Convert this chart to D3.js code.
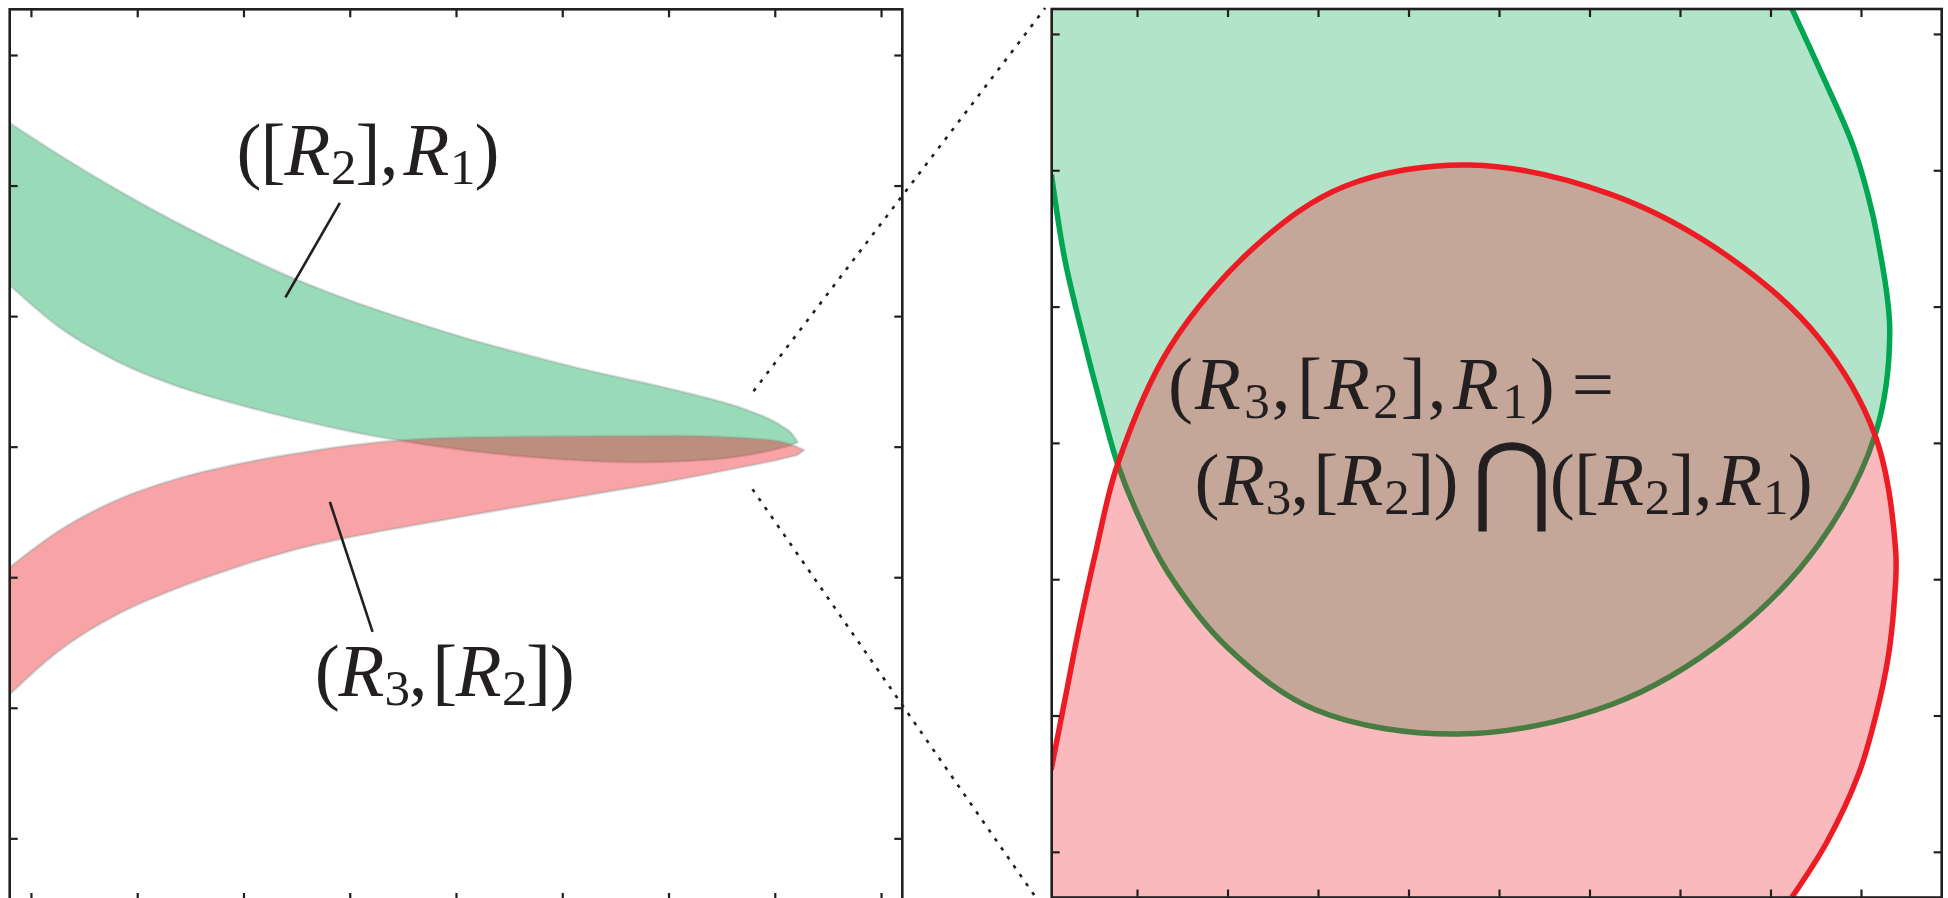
<!DOCTYPE html>
<html><head><meta charset="utf-8">
<script src="https://cdn.jsdelivr.net/npm/d3@7"></script>
<style>html,body{margin:0;padding:0;background:#fff}svg{display:block}</style>
</head><body>
<svg id="chart" width="1948" height="898"></svg>
<script>
// ---------------- data ----------------
const leftXTicks  = [0,1,2,3,4,5,6,7,8];
const leftYTicks  = [-3,-2,-1,0,1,2,3];
const rightXTicks = [0,1,2,3,4,5,6,7,8];
const rightYTicks = [-3,-2,-1,0,1,2,3];

// left panel: band ([R2],R1)  (edges listed left -> tip)
const greenBandUpper = [[-0.2,2.479],[0.258,2.238],[0.807,1.969],[1.363,1.720],[1.918,1.494],[2.464,1.291],[3.020,1.115],[3.575,0.962],[4.121,0.824],[4.677,0.701],[5.233,0.586],[5.779,0.487],[6.108,0.425],[6.334,0.379],[6.739,0.280],[7.050,0.165],[7.172,0.088],[7.215,0.034]];
const greenBandLower = [[-0.2,1.238],[0.258,0.920],[0.807,0.655],[1.363,0.467],[1.918,0.330],[2.464,0.215],[3.020,0.115],[3.575,0.034],[4.126,-0.031],[4.677,-0.077],[5.233,-0.107],[5.783,-0.119],[6.334,-0.103],[6.890,-0.042],[7.144,0.008]];
// left panel: band (R3,[R2])
const redBandUpper = [[-0.2,-0.923],[0.258,-0.648],[0.807,-0.410],[1.363,-0.249],[1.918,-0.138],[2.464,-0.057],[3.020,0.011],[3.575,0.054],[4.126,0.073],[5.233,0.080],[6.108,0.084],[6.890,0.057],[7.144,0.019],[7.276,-0.027]];
const redBandLower = [[-0.2,-1.897],[0.258,-1.567],[0.807,-1.287],[1.363,-1.088],[1.918,-0.927],[2.464,-0.793],[3.020,-0.690],[3.575,-0.605],[4.126,-0.525],[5.233,-0.372],[6.108,-0.249],[6.739,-0.149],[7.050,-0.096],[7.207,-0.065]];

// right panel (zoom): boundary curves
const greenCurve = [[-0.946,1.968],[-0.802,1.359],[-0.641,0.897],[-0.378,0.224],[-0.214,-0.155],[0.014,-0.533],[0.343,-0.952],[0.994,-1.497],[1.978,-1.960],[3.547,-2.136],[5.245,-1.919],[6.552,-1.415],[7.534,-0.742],[8.155,0.056],[8.318,0.814],[8.188,1.485],[8.077,1.819],[7.901,2.200],[7.569,2.703],[7.238,3.183]];
const redCurve = [[-0.95,-2.40],[-0.770,-1.793],[-0.646,-1.373],[-0.451,-0.784],[-0.214,-0.155],[0.365,0.704],[1.323,1.452],[2.303,1.885],[3.676,2.039],[5.245,1.821],[6.552,1.359],[7.534,0.770],[8.155,0.056],[8.383,-0.786],[8.365,-1.189],[8.298,-1.583],[8.166,-1.996],[7.978,-2.422],[7.624,-2.928],[7.238,-3.332]];

// annotations (left panel data coords)
const leader1 = [[2.907,1.868],[2.395,1.143]];
const leader2 = [[2.813,-0.423],[3.215,-1.419]];
const dottedUpper = [[6.8,0.425],[9.545,3.36]];
const dottedLower = [[6.79,-0.326],[9.508,-3.513]];

const label1Parts = [{t:"("},{t:"["},{t:"R",k:"it"},{t:"2",k:"sub"},{t:"]"},{t:","},{t:"R",k:"it",dx:0.08},{t:"1",k:"sub"},{t:")"}];
const label2Parts = [{t:"("},{t:"R",k:"it"},{t:"3",k:"sub"},{t:","},{t:"[",dx:0.08},{t:"R",k:"it"},{t:"2",k:"sub"},{t:"]"},{t:")"}];
const eqLine1Parts = [{t:"("},{t:"R",k:"it"},{t:"3",k:"sub"},{t:","},{t:"[",dx:0.06},{t:"R",k:"it"},{t:"2",k:"sub"},{t:"]"},{t:","},{t:"R",k:"it",dx:0.06},{t:"1",k:"sub"},{t:")"},{t:"=",dx:0.2}];
const eqLine2aParts = [{t:"("},{t:"R",k:"it"},{t:"3",k:"sub"},{t:","},{t:"[",dx:0.06},{t:"R",k:"it"},{t:"2",k:"sub"},{t:"]"},{t:")"}];
const eqLine2bParts = [{t:"("},{t:"["},{t:"R",k:"it"},{t:"2",k:"sub"},{t:"]"},{t:","},{t:"R",k:"it",dx:0.06},{t:"1",k:"sub"},{t:")"}];
const capSymbol = "\u22C2";

// label anchors: [x, baseline y] in each panel's data units
const label1Pos = [1.934, 2.080];
const label2Pos = [2.671, -1.912];
const eq1Pos = [0.343, 0.249];
const eq2aPos = [0.636, -0.459];
const capPos = [3.698, -0.459];
const eq2bPos = [4.56, -0.459];

// ---------------- layout ----------------
const svg = d3.select("#chart");
const INK = "#231f20";
const GREEN = "#00a651", RED = "#ed1c24";
const FONT = "'Liberation Serif','Times New Roman',serif";

const xL = d3.scaleLinear().domain([-0.2, 8.2]).range([9.7, 902.3]);
const yL = d3.scaleLinear().domain([-3.48, 3.35]).range([901, 9.3]);
const xR = d3.scaleLinear().domain([-0.943, 8.892]).range([1051.7, 1941.7]);
const yR = d3.scaleLinear().domain([-3.335, 3.183]).range([897.5, 9]);

const defs = svg.append("defs");
function clip(id, x, y){
  defs.append("clipPath").attr("id", id).append("rect")
    .attr("x", x.range()[0]).attr("y", y.range()[1])
    .attr("width", x.range()[1]-x.range()[0]).attr("height", y.range()[0]-y.range()[1]);
}
clip("clipL", xL, yL); clip("clipR", xR, yR);

// ---- left panel bands
const gL = svg.append("g").attr("clip-path","url(#clipL)");
const lineL = d3.line().x(d=>xL(d[0])).y(d=>yL(d[1])).curve(d3.curveMonotoneX);
function band(upper, lower, color){
  const d = lineL(upper) + lineL(lower.slice().reverse()).replace(/^M/, "L") + "Z";
  gL.append("path").attr("d", d)
    .attr("fill", color).attr("fill-opacity", 0.4)
    .attr("stroke", "#8c9a94").attr("stroke-opacity", 0.35).attr("stroke-width", 2.5)
    .attr("stroke-linejoin","round");
}
band(greenBandUpper, greenBandLower, GREEN);
band(redBandUpper, redBandLower, RED);

// ---- right panel regions
const gR = svg.append("g").attr("clip-path","url(#clipR)");
const lineR = d3.line().x(d=>xR(d[0])).y(d=>yR(d[1])).curve(d3.curveCatmullRom.alpha(0.5));
const [rx0] = xR.domain(), [ry0, ry1] = yR.domain();
gR.append("path")
  .attr("d", lineR(greenCurve) + `L${xR(rx0)},${yR(ry1)}Z`)
  .attr("fill", GREEN).attr("fill-opacity", 0.3);
gR.append("path").attr("d", lineR(greenCurve))
  .attr("fill","none").attr("stroke", GREEN).attr("stroke-width", 5.5);
gR.append("path")
  .attr("d", lineR(redCurve) + `L${xR(rx0)},${yR(ry0)}Z`)
  .attr("fill", RED).attr("fill-opacity", 0.3);
gR.append("path").attr("d", lineR(redCurve))
  .attr("fill","none").attr("stroke", RED).attr("stroke-width", 5.5);

// ---- frames & inward ticks
function frame(x, y, xt, yt){
  const g = svg.append("g");
  const TL = 8;
  const [x0,x1] = x.range(), [y1,y0] = y.range();
  const axes = [
    [d3.axisBottom(x).tickValues(xt), `translate(0,${y1})`],
    [d3.axisTop(x).tickValues(xt), `translate(0,${y0})`],
    [d3.axisLeft(y).tickValues(yt), `translate(${x0},0)`],
    [d3.axisRight(y).tickValues(yt), `translate(${x1},0)`]
  ];
  axes.forEach(([ax, tr]) => {
    const a = g.append("g").attr("transform", tr)
      .call(ax.tickSizeInner(-TL).tickSizeOuter(0).tickFormat(""));
    a.select(".domain").remove();
    a.selectAll(".tick line").attr("stroke", INK).attr("stroke-width", 2.2);
  });
  g.append("rect").attr("x", x0).attr("y", y0).attr("width", x1-x0).attr("height", y1-y0)
    .attr("fill","none").attr("stroke", INK).attr("stroke-width", 2.6);
}
frame(xL, yL, leftXTicks, leftYTicks);
frame(xR, yR, rightXTicks, rightYTicks);

// ---- dotted connector lines
const lineLs = d3.line().x(d=>xL(d[0])).y(d=>yL(d[1]));
[dottedUpper, dottedLower].forEach(seg => {
  svg.append("path").attr("d", lineLs(seg)).attr("fill","none")
    .attr("stroke", INK).attr("stroke-width", 2.6).attr("stroke-dasharray", "3.5 7.4");
});
// ---- leader lines
[leader1, leader2].forEach(seg => {
  svg.append("path").attr("d", lineLs(seg)).attr("fill","none")
    .attr("stroke", INK).attr("stroke-width", 2.6);
});

// ---- math labels
function mathText(x, y, parts, fs, width){
  const t = svg.append("text").attr("x", x).attr("y", y)
    .attr("font-family", FONT).attr("font-size", fs).attr("fill", INK);
  let shifted = 0;
  parts.forEach(p => {
    const s = t.append("tspan").text(p.t);
    let dy = 0, dx = p.dx || 0;
    if (p.k === "sub"){ s.attr("font-size", fs*0.68); dy = fs*0.12; dx += 0.02; }
    if (p.k === "it") s.attr("font-style","italic");
    const delta = dy - shifted;
    if (delta) s.attr("dy", delta);
    shifted = dy;
    if (dx) s.attr("dx", dx*fs);
  });
  if (width) t.attr("textLength", width).attr("lengthAdjust","spacing");
  return t;
}
const FS = 75;
mathText(xL(label1Pos[0]), yL(label1Pos[1]), label1Parts, FS, 263);
mathText(xL(label2Pos[0]), yL(label2Pos[1]), label2Parts, FS, 260);
mathText(xR(eq1Pos[0]), yR(eq1Pos[1]), eqLine1Parts, FS, 446);
mathText(xR(eq2aPos[0]), yR(eq2aPos[1]), eqLine2aParts, FS, 264);
mathText(xR(eq2bPos[0]), yR(eq2bPos[1]), eqLine2bParts, FS, 263);
svg.append("text").attr("x", xR(capPos[0])).attr("y", yR(capPos[1]) + 8)
  .attr("font-family","'DejaVu Sans',sans-serif").attr("font-size", 98)
  .attr("fill", INK).text(capSymbol);
</script>
</body></html>
